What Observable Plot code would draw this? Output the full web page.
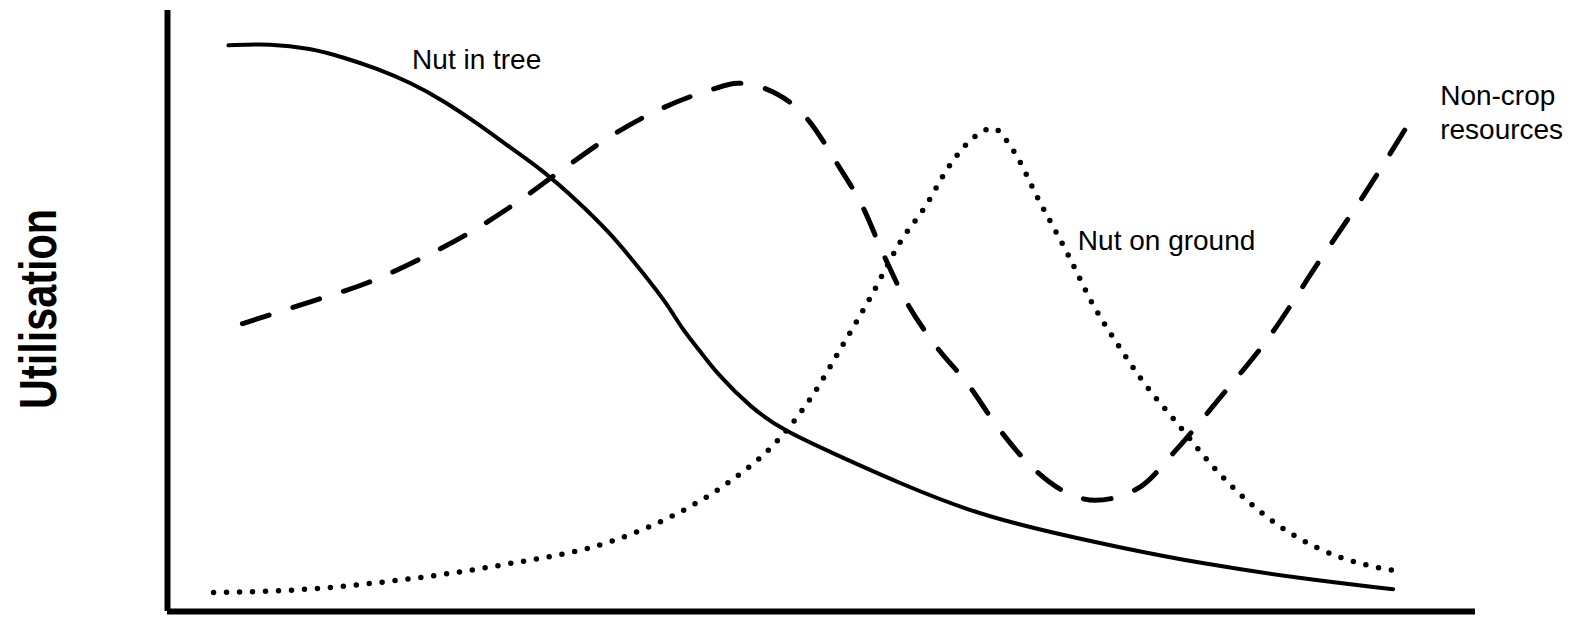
<!DOCTYPE html>
<html>
<head>
<meta charset="utf-8">
<script src="https://cdn.jsdelivr.net/npm/d3@7"></script>
<script src="https://cdn.jsdelivr.net/npm/@observablehq/plot@0.6"></script>
<style>
  html, body { margin: 0; padding: 0; background: #fff; }
  #chart svg { display: block; }
</style>
</head>
<body>
<div id="chart"></div>
<script>
// Nut in tree (solid)
const treeTime = [4.66, 7.87, 10.93, 13.46, 16.06, 18.58, 21.1, 23.7, 26.2, 28.7, 31.3, 33.9, 36.4, 38.2, 39.4, 40.7, 42.0, 44.6, 47.1, 50.9, 56.0, 61.2, 66.2, 72.9, 79.0, 86.6, 93.7];
const treeUse  = [94.2, 94.5, 93.7, 92.2, 90.3, 88.0, 85.0, 81.2, 77.2, 73.4, 68.4, 62.9, 56.2, 51.2, 46.8, 43.4, 39.6, 33.9, 30.1, 26.3, 21.3, 16.8, 13.8, 10.6, 8.0, 5.5, 3.7];

// Non-crop resources (dashed)
const nonCropTime = [5.73, 11.16, 15.29, 19.34, 23.0, 26.6, 30.3, 33.6, 37.3, 41.4, 43.6, 45.7, 48.9, 51.2, 53.2, 54.7, 56.4, 58.6, 61.2, 63.5, 66.1, 69.6, 70.9, 74.2, 77.2, 80.4, 84.2, 88.0, 91.2, 94.9];
const nonCropUse  = [47.9, 51.7, 54.7, 58.7, 62.9, 67.9, 73.7, 78.7, 83.2, 86.7, 87.9, 87.0, 82.0, 74.5, 67.1, 59.6, 51.9, 44.6, 37.8, 30.6, 24.0, 19.0, 18.5, 20.5, 27.1, 35.4, 45.6, 58.1, 68.4, 81.2];

// Nut on ground (dotted)
const groundTime = [3.52, 10.3, 18.0, 25.7, 34.1, 38.7, 42.9, 46.5, 49.3, 51.7, 53.9, 56.0, 58.0, 59.7, 61.2, 63.1, 64.6, 66.7, 68.8, 70.8, 72.6, 74.4, 77.2, 80.4, 84.2, 88.0, 91.2, 94.1];
const groundUse  = [3.16, 3.66, 5.3, 7.8, 11.8, 16.0, 21.5, 28.1, 35.9, 44.6, 52.9, 61.4, 67.6, 73.9, 78.0, 80.4, 76.9, 68.1, 59.6, 50.9, 44.6, 38.8, 31.3, 23.0, 15.5, 10.5, 8.0, 6.7];

// Curve labels
const labelText = ["Nut in tree", "Nut on ground", "Non-crop\nresources"];
const labelTime = [18.7, 69.6, 97.3];
const labelUse  = [92.0, 61.9, 83.2];

const yTitle = "Utilisation";

const zip = (xs, ys) => xs.map((x, i) => ({t: x, u: ys[i]}));
const tree = zip(treeTime, treeUse);
const nonCrop = zip(nonCropTime, nonCropUse);
const ground = zip(groundTime, groundUse);
const labels = labelText.map((s, i) => ({s, t: labelTime[i], u: labelUse[i]}));

const chart = Plot.plot({
  width: 1578,
  height: 617,
  marginLeft: 167,
  marginRight: 103,
  marginTop: 10,
  marginBottom: 6,
  x: {domain: [0, 100], axis: null},
  y: {domain: [0, 100], axis: null},
  style: {background: "#fff", overflow: "visible"},
  marks: [
    Plot.ruleX([0], {stroke: "#000", strokeWidth: 6}),
    Plot.ruleY([0], {stroke: "#000", strokeWidth: 6}),
    Plot.line(ground, {x: "t", y: "u", curve: "monotone-x", stroke: "#000", strokeWidth: 5.5, strokeDasharray: "0,13", strokeLinecap: "round"}),
    Plot.line(nonCrop, {x: "t", y: "u", curve: "monotone-x", stroke: "#000", strokeWidth: 5, strokeDasharray: "28,25", strokeLinecap: "round"}),
    Plot.line(tree, {x: "t", y: "u", curve: "basis", stroke: "#000", strokeWidth: 4, strokeLinecap: "round"}),
    Plot.text(labels, {x: "t", y: "u", text: "s", textAnchor: "start", lineAnchor: "middle", lineHeight: 1.2, fontSize: 28, fontFamily: "'Liberation Sans', Arial, sans-serif", fill: "#000"}),
    Plot.text([yTitle], {frameAnchor: "left", text: d => d, rotate: -90, dx: -112, dy: -2, textAnchor: "middle", lineAnchor: "bottom", fontSize: 52, fontWeight: "bold", fontFamily: "'Liberation Sans', Arial, sans-serif", fill: "#000"})
  ]
});
// condense the axis title like a narrow bold face
d3.select(chart).selectAll("text")
  .filter(function() { return this.textContent === yTitle; })
  .attr("textLength", 200)
  .attr("lengthAdjust", "spacingAndGlyphs");
document.getElementById("chart").append(chart);
</script>
</body>
</html>
